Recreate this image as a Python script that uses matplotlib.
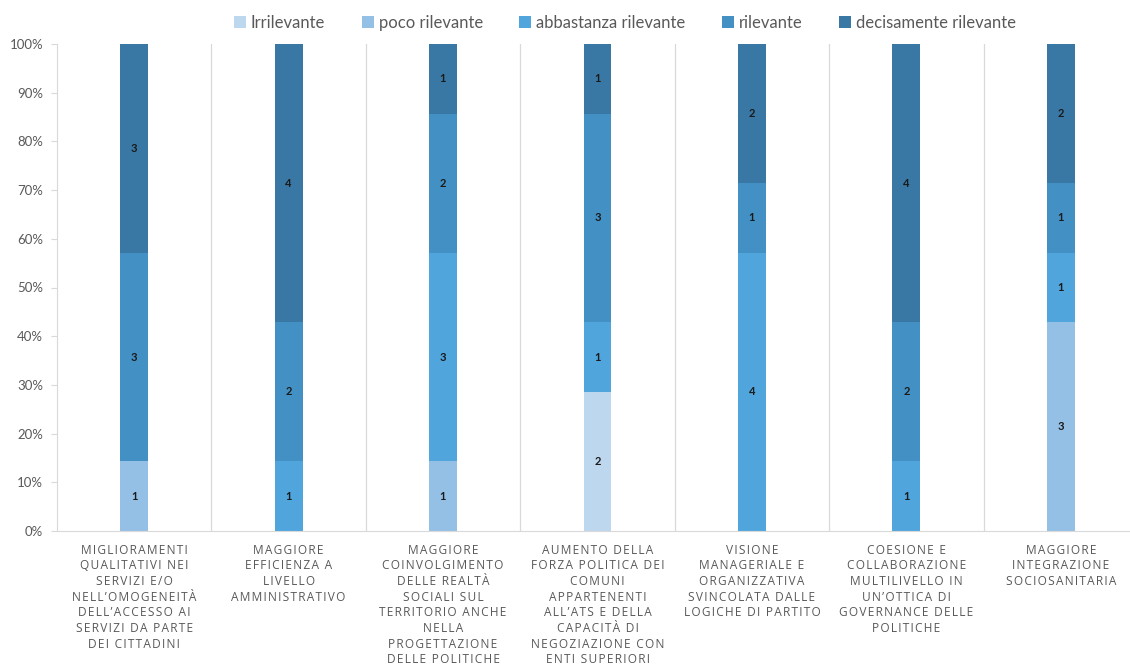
import numpy as np
import matplotlib.pyplot as plt

plt.rcParams['font.family'] = ['Lato', 'DejaVu Sans']

# Risposte per ciascun ambito (numero di rispondenti)
categorie = [
    "MIGLIORAMENTI\nQUALITATIVI NEI\nSERVIZI E/O\nNELL\u2019OMOGENEITÀ\nDELL\u2019ACCESSO AI\nSERVIZI DA PARTE\nDEI CITTADINI",
    "MAGGIORE\nEFFICIENZA A\nLIVELLO\nAMMINISTRATIVO",
    "MAGGIORE\nCOINVOLGIMENTO\nDELLE REALTÀ\nSOCIALI SUL\nTERRITORIO ANCHE\nNELLA\nPROGETTAZIONE\nDELLE POLITICHE",
    "AUMENTO DELLA\nFORZA POLITICA DEI\nCOMUNI\nAPPARTENENTI\nALL\u2019ATS E DELLA\nCAPACITÀ DI\nNEGOZIAZIONE CON\nENTI SUPERIORI",
    "VISIONE\nMANAGERIALE E\nORGANIZZATIVA\nSVINCOLATA DALLE\nLOGICHE DI PARTITO",
    "COESIONE E\nCOLLABORAZIONE\nMULTILIVELLO IN\nUN\u2019OTTICA DI\nGOVERNANCE DELLE\nPOLITICHE",
    "MAGGIORE\nINTEGRAZIONE\nSOCIOSANITARIA",
]

irrilevante = [0, 0, 0, 2, 0, 0, 0]
poco_rilevante = [1, 0, 1, 0, 0, 0, 3]
abbastanza_rilevante = [0, 1, 3, 1, 4, 1, 1]
rilevante = [3, 2, 2, 3, 1, 2, 1]
decisamente_rilevante = [3, 4, 1, 1, 2, 4, 2]

serie = [
    ("Irrilevante", irrilevante, "#bdd7ee"),
    ("poco rilevante", poco_rilevante, "#95c0e6"),
    ("abbastanza rilevante", abbastanza_rilevante, "#4fa5dc"),
    ("rilevante", rilevante, "#4391c4"),
    ("decisamente rilevante", decisamente_rilevante, "#3978a5"),
]


def spaziato(testo):
    # spaziatura tra le lettere con un hair space
    return "\n".join("\u200a".join(riga) for riga in testo.split("\n"))


totali = np.sum([s[1] for s in serie], axis=0)
x = np.arange(len(categorie))

fig = plt.figure(figsize=(11.3, 6.66), dpi=100)
ax = fig.add_axes([57 / 1130, 1 - 531 / 666, (1138 - 57) / 1130, (531 - 44) / 666])

base = np.zeros(len(categorie))
for nome, valori, colore in serie:
    v = np.array(valori, dtype=float)
    quota = v / totali
    ax.bar(x, quota, 0.18, bottom=base, color=colore, label=nome, edgecolor='none')
    for i in range(len(x)):
        if v[i] > 0:
            ax.text(x[i], base[i] + quota[i] / 2, str(int(v[i])), ha='center', va='center',
                    fontsize=8, fontweight='bold', color='#1a1a1a')
    base += quota

ax.set_xlim(-0.5, len(categorie) - 0.5)
ax.set_ylim(0, 1)
ax.set_yticks(np.arange(0, 1.01, 0.1))
ax.set_yticklabels([f"{int(round(t * 100))}%" for t in np.arange(0, 1.01, 0.1)],
                   fontsize=9.5, color='#595959')

# separatori verticali tra le categorie
for b in np.arange(0.5, len(categorie) - 0.5, 1):
    ax.axvline(b, color='#d9d9d9', lw=0.9, zorder=0)

ax.set_xticks(x)
ax.set_xticklabels([spaziato(c) for c in categorie], fontsize=8.6, color='#595959',
                   linespacing=1.27, va='top', family=['Open Sans', 'DejaVu Sans'])
ax.tick_params(axis='x', length=0, pad=9)
ax.tick_params(axis='y', length=4, color='#d9d9d9', pad=6)

for s in ['top', 'right']:
    ax.spines[s].set_visible(False)
ax.spines['left'].set_color('#d9d9d9')
ax.spines['bottom'].set_color('#d9d9d9')

ax.legend(loc='upper center', bbox_to_anchor=(625 / 1130, 1.0), bbox_transform=fig.transFigure,
          ncol=5, frameon=False, fontsize=12, handlelength=0.7, handleheight=0.7,
          handletextpad=0.3, columnspacing=2.2, labelcolor='#595959')

fig.savefig("out.png", dpi=100)
